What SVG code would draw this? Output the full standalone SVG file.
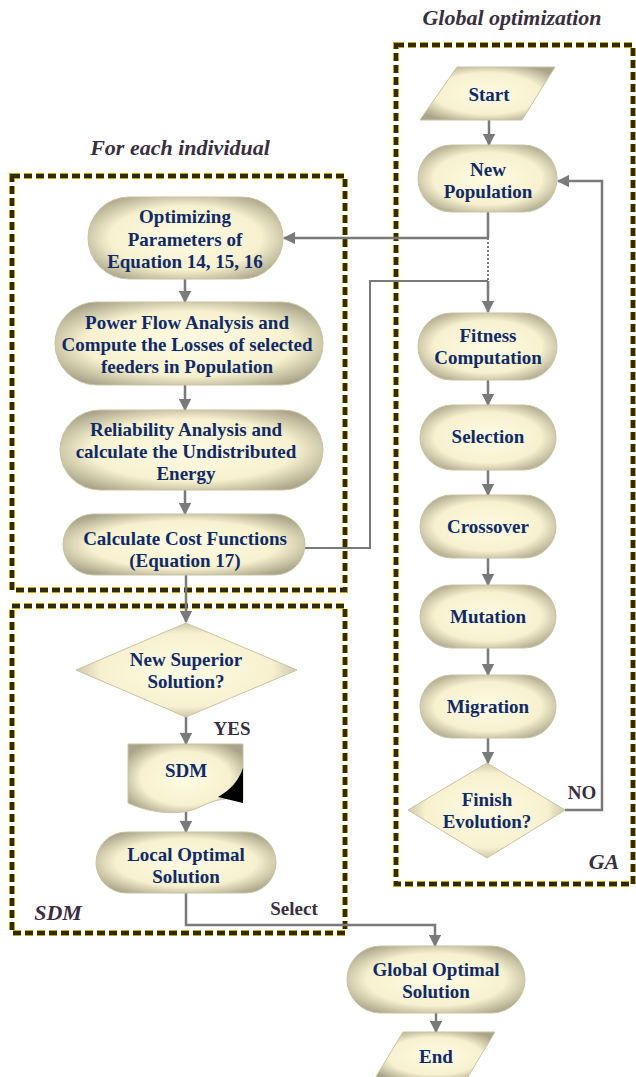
<svg xmlns="http://www.w3.org/2000/svg" width="636" height="1077" viewBox="0 0 636 1077">
<style>
.t{font-family:"Liberation Serif",serif;font-weight:bold;font-size:19px;fill:#102a66;text-anchor:middle}
.h{font-family:"Liberation Serif",serif;font-weight:bold;font-style:italic;font-size:22px;fill:#3a2f3f;text-anchor:middle}
.l{font-family:"Liberation Serif",serif;font-weight:bold;font-size:19px;fill:#3a2f3f;text-anchor:middle}
.n{fill:url(#g);stroke:#c8c3a5;stroke-width:1}
.c{fill:none;stroke:#7a7a7a;stroke-width:2.5}
.c2{fill:none;stroke:#7a7a7a;stroke-width:2}
.bh{fill:none;stroke:#c9a800;stroke-width:6;stroke-dasharray:8 4}
.bd{fill:none;stroke:#2f2a0e;stroke-width:4;stroke-dasharray:8 4}
</style>
<defs>
<radialGradient id="g" cx="50%" cy="50%" r="60%">
<stop offset="0" stop-color="#fffbe4"/>
<stop offset="0.65" stop-color="#f7f1cf"/>
<stop offset="1" stop-color="#aaa58a"/>
</radialGradient>
<marker id="a" viewBox="0 0 10 10" refX="9" refY="5" markerWidth="5" markerHeight="5" markerUnits="strokeWidth" orient="auto">
<path d="M0,0 L10,5 L0,10 z" fill="#7a7a7a"/>
</marker>
</defs>
<rect width="636" height="1077" fill="#ffffff"/>

<g id="titles">
<text class="h" x="512" y="25">Global optimization</text>
<text class="h" x="180" y="155">For each individual</text>
<text class="h" x="58" y="920">SDM</text>
<text class="h" x="604" y="869">GA</text>
</g>

<g id="boxes">
<rect class="bh" x="396" y="45" width="237" height="839"/>
<rect class="bd" x="396" y="45" width="237" height="839"/>
<rect class="bh" x="12" y="176" width="333" height="414"/>
<rect class="bd" x="12" y="176" width="333" height="414"/>
<rect class="bh" x="12" y="606" width="333" height="327"/>
<rect class="bd" x="12" y="606" width="333" height="327"/>
</g>

<g id="connectors">
<line class="c" x1="489" y1="120" x2="489" y2="145" marker-end="url(#a)"/>
<line class="c" x1="488" y1="212" x2="488" y2="238"/>
<line class="c" x1="488" y1="238" x2="284" y2="238" marker-end="url(#a)"/>
<line x1="488" y1="238" x2="488" y2="281" stroke="#7a7a7a" stroke-width="2" stroke-dasharray="2 2"/>
<path class="c2" d="M305,548 H370 V281 H488"/>
<line class="c" x1="488" y1="281" x2="488" y2="312" marker-end="url(#a)"/>
<line class="c" x1="185" y1="279" x2="185" y2="302" marker-end="url(#a)"/>
<line class="c" x1="185" y1="385" x2="185" y2="410" marker-end="url(#a)"/>
<line class="c" x1="185" y1="490" x2="185" y2="514" marker-end="url(#a)"/>
<line class="c" x1="186" y1="575" x2="186" y2="622" marker-end="url(#a)"/>
<line class="c" x1="186" y1="717" x2="186" y2="744" marker-end="url(#a)"/>
<line class="c" x1="186" y1="812" x2="186" y2="832" marker-end="url(#a)"/>
<path class="c" d="M186,893 V925 H435 V946" marker-end="url(#a)"/>
<line class="c" x1="436" y1="1013" x2="436" y2="1032" marker-end="url(#a)"/>
<line class="c" x1="488" y1="380" x2="488" y2="405" marker-end="url(#a)"/>
<line class="c" x1="488" y1="470" x2="488" y2="495" marker-end="url(#a)"/>
<line class="c" x1="488" y1="558" x2="488" y2="585" marker-end="url(#a)"/>
<line class="c" x1="488" y1="648" x2="488" y2="675" marker-end="url(#a)"/>
<line class="c" x1="488" y1="738" x2="488" y2="763" marker-end="url(#a)"/>
<path class="c" d="M565,810 H602 V181 H558" marker-end="url(#a)"/>
<text class="l" x="232" y="735">YES</text>
<text class="l" x="582" y="799">NO</text>
<text class="l" x="294" y="915">Select</text>
</g>

<g id="start">
<polygon class="n" points="457,67 555,67 522,120 420,120"/>
<text class="t" x="489" y="101">Start</text>
</g>
<g id="new-population">
<rect class="n" x="418" y="145" width="139" height="67" rx="33.5"/>
<text class="t" x="488" y="176">New</text>
<text class="t" x="488" y="198">Population</text>
</g>
<g id="optimizing">
<rect class="n" x="88" y="197" width="195" height="82" rx="41"/>
<text class="t" x="185" y="223">Optimizing</text>
<text class="t" x="185" y="246">Parameters of</text>
<text class="t" x="185" y="268">Equation 14, 15, 16</text>
</g>
<g id="power-flow">
<rect class="n" x="55" y="302" width="268" height="83" rx="41.5"/>
<text class="t" x="187" y="329">Power Flow Analysis and</text>
<text class="t" x="187" y="351">Compute the Losses of selected</text>
<text class="t" x="187" y="373">feeders in Population</text>
</g>
<g id="reliability">
<rect class="n" x="60" y="410" width="263" height="80" rx="40"/>
<text class="t" x="186" y="436">Reliability Analysis and</text>
<text class="t" x="186" y="458">calculate the Undistributed</text>
<text class="t" x="186" y="480">Energy</text>
</g>
<g id="cost">
<rect class="n" x="63" y="514" width="242" height="61" rx="30.5"/>
<text class="t" x="185" y="545">Calculate Cost Functions</text>
<text class="t" x="185" y="567">(Equation 17)</text>
</g>
<g id="new-superior">
<polygon class="n" points="186,623 297,670 186,717 76,670"/>
<text class="t" x="186" y="666">New Superior</text>
<text class="t" x="186" y="688">Solution?</text>
</g>
<g id="sdm">
<path class="n" d="M128,744 H243 V800 C228,796 214,800 200,807 C182,816 152,814 128,803 Z"/>
<path d="M243,768 V803 L218,797 C230,790 238,782 243,768 Z" fill="#000"/>
<text class="t" x="186" y="777">SDM</text>
</g>
<g id="local-optimal">
<rect class="n" x="96" y="832" width="180" height="61" rx="30.5"/>
<text class="t" x="186" y="861">Local Optimal</text>
<text class="t" x="186" y="883">Solution</text>
</g>
<g id="global-optimal">
<rect class="n" x="347" y="946" width="178" height="67" rx="33.5"/>
<text class="t" x="436" y="976">Global Optimal</text>
<text class="t" x="436" y="998">Solution</text>
</g>
<g id="end">
<polygon class="n" points="403,1032 495,1032 466,1080 374,1080"/>
<text class="t" x="436" y="1063">End</text>
</g>
<g id="fitness">
<rect class="n" x="418" y="313" width="139" height="67" rx="33.5"/>
<text class="t" x="488" y="342">Fitness</text>
<text class="t" x="488" y="364">Computation</text>
</g>
<g id="selection">
<rect class="n" x="420" y="405" width="136" height="65" rx="32.5"/>
<text class="t" x="488" y="443">Selection</text>
</g>
<g id="crossover">
<rect class="n" x="420" y="495" width="136" height="63" rx="31.5"/>
<text class="t" x="488" y="533">Crossover</text>
</g>
<g id="mutation">
<rect class="n" x="420" y="585" width="136" height="63" rx="31.5"/>
<text class="t" x="488" y="623">Mutation</text>
</g>
<g id="migration">
<rect class="n" x="420" y="675" width="136" height="63" rx="31.5"/>
<text class="t" x="488" y="713">Migration</text>
</g>
<g id="finish">
<polygon class="n" points="487,763 565,810 487,858 408,810"/>
<text class="t" x="487" y="806">Finish</text>
<text class="t" x="487" y="828">Evolution?</text>
</g>
</svg>
